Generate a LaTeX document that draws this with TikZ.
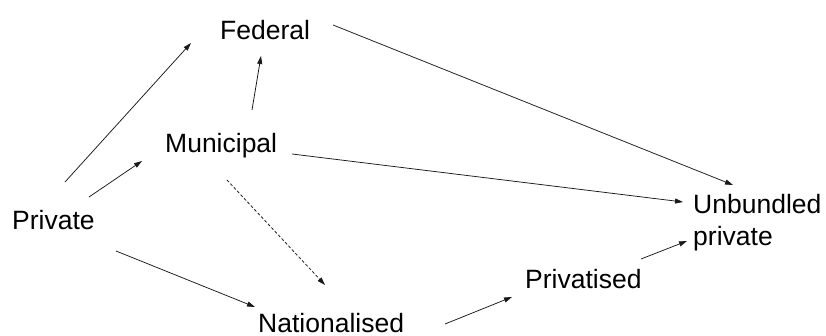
\documentclass[tikz,border=0pt]{standalone}
\usepackage{fontspec}
\setmainfont{Liberation Sans}
\usetikzlibrary{arrows.meta}
\begin{document}
\begin{tikzpicture}[x=1pt,y=-1pt,
  lbl/.style={inner sep=0pt,font=\fontsize{26.5}{32.5}\selectfont,text=black},
  conn/.style={line width=0.75pt,draw=black!90,-{Triangle[length=8pt,width=5pt]}},
  dconn/.style={conn,dash pattern=on 3pt off 2pt}]
\useasboundingbox (0,0) rectangle (826,336);
\node[lbl,anchor=base west] (fed) at (220,40) {Federal};
\node[lbl,anchor=base west] (mun) at (165,153) {Municipal};
\node[lbl,anchor=base west] (priv) at (12,230) {Private};
\node[lbl,anchor=base west] (nat) at (258,332) {Nationalised};
\node[lbl,anchor=base west] (prv) at (525,288) {Privatised};
\node[lbl,anchor=north west,align=left] (unb) at (693,193.7) {Unbundled\\private};
\draw[conn] ([shift={(53,-48)}]priv.base west) -- ([shift={(-29,3)}]fed.base west);
\draw[conn] ([shift={(77,-33)}]priv.base west) -- ([shift={(-23,8)}]mun.base west);
\draw[conn] ([shift={(87,-43)}]mun.base west) -- ([shift={(41,16)}]fed.base west);
\draw[dconn] ([shift={(62,27)}]mun.base west) -- ([shift={(67,-47)}]nat.base west);
\draw[conn] ([shift={(104,21)}]priv.base west) -- ([shift={(-3,-25)}]nat.base west);
\draw[conn] ([shift={(113,-15)}]fed.base west) -- ([shift={(40,-8.7)}]unb.north west);
\draw[conn] ([shift={(127,1)}]mun.base west) -- ([shift={(-10,8.3)}]unb.north west);
\draw[conn] ([shift={(187,-8)}]nat.base west) -- ([shift={(-13,9)}]prv.base west);
\draw[conn] ([shift={(116,-29)}]prv.base west) -- ([shift={(-6,47.3)}]unb.north west);
\end{tikzpicture}
\end{document}
